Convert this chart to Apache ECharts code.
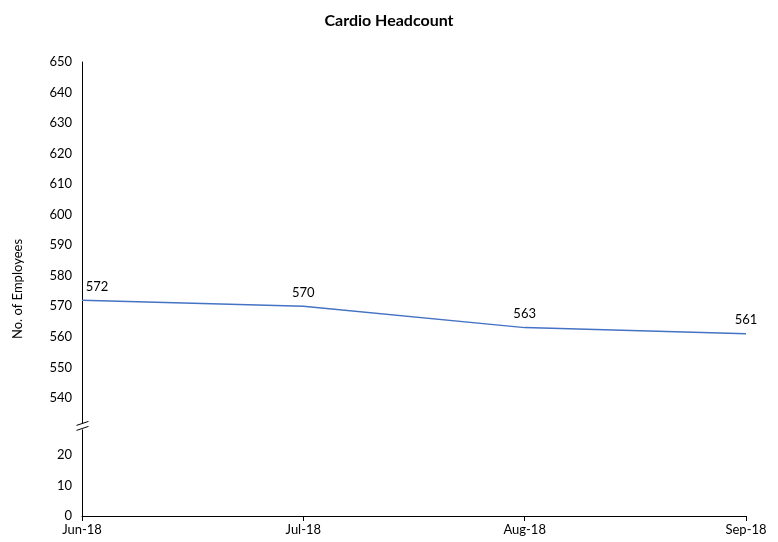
<!DOCTYPE html>
<html>
<head>
<meta charset="utf-8">
<title>Cardio Headcount</title>
<script src="https://cdn.jsdelivr.net/npm/echarts@6/dist/echarts.min.js"></script>
<style>
  html, body { margin: 0; padding: 0; background: #fff; }
  #chart { width: 778px; height: 542px; }
</style>
</head>
<body>
<div id="chart"></div>
<script>
// data
const months = ['Jun-18', 'Jul-18', 'Aug-18', 'Sep-18'];
const headcount = [572, 570, 563, 561];
// y axis: 0..20, then a break, then 540..650
const yBreak = { start: 20, end: 540 };

const font = 'Lato, "Open Sans", sans-serif';

const chart = echarts.init(document.getElementById('chart'));

const option = {
  textStyle: { fontFamily: font },
  title: {
    text: 'Cardio Headcount',
    left: 'center',
    top: 8,
    textStyle: { fontFamily: font, fontSize: 16, fontWeight: 'bold', color: '#000' }
  },
  grid: { left: 82, right: 32, top: 62, bottom: 26 },
  xAxis: {
    type: 'category',
    data: months,
    boundaryGap: false,
    axisLine: { lineStyle: { color: '#000', width: 1 } },
    axisTick: { show: true, length: 5, lineStyle: { color: '#000' } },
    axisLabel: { color: '#000', fontSize: 13, margin: 7, fontFamily: font }
  },
  yAxis: {
    type: 'value',
    min: 0,
    max: 650,
    interval: 10,
    name: 'No. of Employees',
    nameLocation: 'middle',
    nameGap: 58,
    nameTextStyle: { color: '#000', fontSize: 13, fontFamily: font },
    // gap is in data units here (~57 px)
    breaks: [{ start: yBreak.start, end: yBreak.end, gap: 18.7 }],
    breakArea: { show: false, expandOnClick: false },
    breakLabelLayout: { moveOverlap: false },
    axisLine: { show: true, breakLine: false, lineStyle: { color: '#000', width: 1 } },
    axisTick: { show: false },
    splitLine: { show: false },
    axisLabel: {
      color: '#000',
      fontSize: 13,
      margin: 10,
      hideOverlap: false,
      fontFamily: font,
      formatter: function (v) { return v % 10 === 0 ? String(v) : ''; }
    }
  },
  series: [{
    type: 'line',
    data: headcount.map(function (v, i) {
      return i === 0 ? { value: v, label: { offset: [15, 0] } } : v;
    }),
    symbol: 'circle',
    symbolSize: 2,
    showSymbol: true,
    itemStyle: { color: 'rgba(68,114,196,0)', borderWidth: 0 },
    lineStyle: { color: '#4472C4', width: 1.5 },
    label: {
      show: true,
      position: 'top',
      distance: 6,
      color: '#000',
      fontSize: 13,
      fontFamily: font
    }
  }],
  animation: false
};

chart.setOption(option);

// axis line through the break, with a small "//" marker
const yA = chart.convertToPixel({ yAxisIndex: 0 }, yBreak.start);
const yB = chart.convertToPixel({ yAxisIndex: 0 }, yBreak.end);
const xA = Math.round(chart.convertToPixel({ xAxisIndex: 0 }, 0)) + 0.5;
const yMid = (yA + yB) / 2;
chart.setOption({
  graphic: [
    { type: 'line', shape: { x1: xA, y1: yB, x2: xA, y2: yA }, style: { stroke: '#000', lineWidth: 1 }, z: 99 },
    { type: 'rect', shape: { x: xA - 2, y: yMid - 3, width: 4, height: 6 }, style: { fill: '#fff' }, z: 100 },
    { type: 'line', shape: { x1: xA - 6, y1: yMid - 1, x2: xA + 6, y2: yMid - 5 }, style: { stroke: '#000', lineWidth: 1 }, z: 101 },
    { type: 'line', shape: { x1: xA - 6, y1: yMid + 4, x2: xA + 6, y2: yMid }, style: { stroke: '#000', lineWidth: 1 }, z: 101 }
  ]
});
</script>
</body>
</html>
